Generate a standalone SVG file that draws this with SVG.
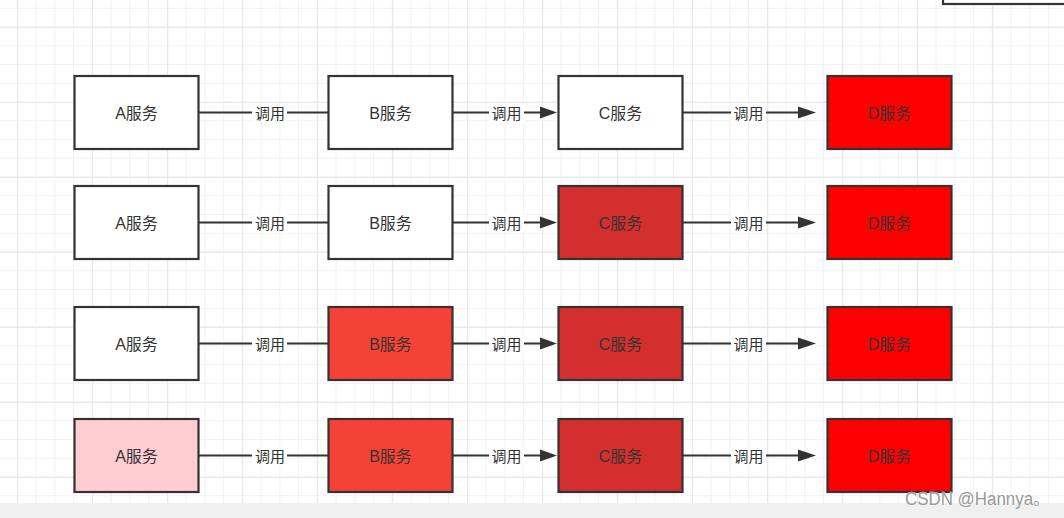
<svg xmlns="http://www.w3.org/2000/svg" width="1064" height="518" viewBox="0 0 1064 518">
<style>
.box{stroke:#333333;stroke-width:2.2}
.t{font-family:"Liberation Sans","Noto Sans CJK SC",sans-serif;font-size:15px;fill:#333333;text-anchor:middle;dominant-baseline:central}
.n{font-size:16px}
.edge{stroke:#333333;stroke-width:2.2;fill:none}
.lblbg{fill:#ffffff}
.arr{fill:#333333}
</style>
<defs>
<pattern id="minor" patternUnits="userSpaceOnUse" x="16.8" y="7.8" width="18.75" height="18.75">
<path d="M0 0.5H18.75M0.5 0V18.75" stroke="#f1f1f1" stroke-width="1" fill="none"/>
</pattern>
<pattern id="major" patternUnits="userSpaceOnUse" x="17.2" y="26.8" width="75" height="75">
<path d="M0 0.5H75M0.5 0V75" stroke="#e6e6e6" stroke-width="1" fill="none"/>
</pattern>
</defs>
<rect width="1064" height="518" fill="#ffffff"/>
<rect width="1064" height="518" fill="url(#minor)"/>
<rect width="1064" height="518" fill="url(#major)"/>
<g id="topbox"><rect x="943" y="-10" width="130" height="14" fill="#ffffff" class="box"/></g>

<g id="connectors">
<!-- row 1 -->
<line class="edge" x1="199" y1="112.5" x2="328" y2="112.5"/>
<rect class="lblbg" x="252" y="104" width="35" height="18"/>
<text class="t" x="270" y="113">调用</text>
<line class="edge" x1="453" y1="112.5" x2="542" y2="112.5"/>
<polygon class="arr" points="557,112.5 540,106.5 540,118.5"/>
<rect class="lblbg" x="489" y="104" width="35" height="18"/>
<text class="t" x="506.5" y="113">调用</text>
<line class="edge" x1="682" y1="112.5" x2="800" y2="112.5"/>
<polygon class="arr" points="816,112.5 798,106.5 798,118.5"/>
<rect class="lblbg" x="731" y="104" width="35" height="18"/>
<text class="t" x="748.5" y="113">调用</text>
<!-- row 2 -->
<line class="edge" x1="199" y1="222.5" x2="328" y2="222.5"/>
<rect class="lblbg" x="252" y="214" width="35" height="18"/>
<text class="t" x="270" y="223">调用</text>
<line class="edge" x1="453" y1="222.5" x2="542" y2="222.5"/>
<polygon class="arr" points="557,222.5 540,216.5 540,228.5"/>
<rect class="lblbg" x="489" y="214" width="35" height="18"/>
<text class="t" x="506.5" y="223">调用</text>
<line class="edge" x1="682" y1="222.5" x2="800" y2="222.5"/>
<polygon class="arr" points="816,222.5 798,216.5 798,228.5"/>
<rect class="lblbg" x="731" y="214" width="35" height="18"/>
<text class="t" x="748.5" y="223">调用</text>
<!-- row 3 -->
<line class="edge" x1="199" y1="343.5" x2="328" y2="343.5"/>
<rect class="lblbg" x="252" y="335" width="35" height="18"/>
<text class="t" x="270" y="344">调用</text>
<line class="edge" x1="453" y1="343.5" x2="542" y2="343.5"/>
<polygon class="arr" points="557,343.5 540,337.5 540,349.5"/>
<rect class="lblbg" x="489" y="335" width="35" height="18"/>
<text class="t" x="506.5" y="344">调用</text>
<line class="edge" x1="682" y1="343.5" x2="800" y2="343.5"/>
<polygon class="arr" points="816,343.5 798,337.5 798,349.5"/>
<rect class="lblbg" x="731" y="335" width="35" height="18"/>
<text class="t" x="748.5" y="344">调用</text>
<!-- row 4 -->
<line class="edge" x1="199" y1="455.5" x2="328" y2="455.5"/>
<rect class="lblbg" x="252" y="447" width="35" height="18"/>
<text class="t" x="270" y="456">调用</text>
<line class="edge" x1="453" y1="455.5" x2="542" y2="455.5"/>
<polygon class="arr" points="557,455.5 540,449.5 540,461.5"/>
<rect class="lblbg" x="489" y="447" width="35" height="18"/>
<text class="t" x="506.5" y="456">调用</text>
<line class="edge" x1="682" y1="455.5" x2="800" y2="455.5"/>
<polygon class="arr" points="816,455.5 798,449.5 798,461.5"/>
<rect class="lblbg" x="731" y="447" width="35" height="18"/>
<text class="t" x="748.5" y="456">调用</text>
</g>

<g id="r1a"><rect class="box" x="74.5" y="76" width="124" height="73" fill="#ffffff"/><text class="t n" x="136.5" y="113">A服务</text></g>
<g id="r1b"><rect class="box" x="328.5" y="76" width="124" height="73" fill="#ffffff"/><text class="t n" x="390.5" y="113">B服务</text></g>
<g id="r1c"><rect class="box" x="558.5" y="76" width="124" height="73" fill="#ffffff"/><text class="t n" x="620.5" y="113">C服务</text></g>
<g id="r1d"><rect class="box" x="827.5" y="76" width="124" height="73" fill="#ff0000"/><text class="t n" x="889.5" y="113">D服务</text></g>

<g id="r2a"><rect class="box" x="74.5" y="186" width="124" height="73" fill="#ffffff"/><text class="t n" x="136.5" y="223">A服务</text></g>
<g id="r2b"><rect class="box" x="328.5" y="186" width="124" height="73" fill="#ffffff"/><text class="t n" x="390.5" y="223">B服务</text></g>
<g id="r2c"><rect class="box" x="558.5" y="186" width="124" height="73" fill="#d32f2f"/><text class="t n" x="620.5" y="223">C服务</text></g>
<g id="r2d"><rect class="box" x="827.5" y="186" width="124" height="73" fill="#ff0000"/><text class="t n" x="889.5" y="223">D服务</text></g>

<g id="r3a"><rect class="box" x="74.5" y="307" width="124" height="73" fill="#ffffff"/><text class="t n" x="136.5" y="344">A服务</text></g>
<g id="r3b"><rect class="box" x="328.5" y="307" width="124" height="73" fill="#f44336"/><text class="t n" x="390.5" y="344">B服务</text></g>
<g id="r3c"><rect class="box" x="558.5" y="307" width="124" height="73" fill="#d32f2f"/><text class="t n" x="620.5" y="344">C服务</text></g>
<g id="r3d"><rect class="box" x="827.5" y="307" width="124" height="73" fill="#ff0000"/><text class="t n" x="889.5" y="344">D服务</text></g>

<g id="r4a"><rect class="box" x="74.5" y="419" width="124" height="73" fill="#ffcdd2"/><text class="t n" x="136.5" y="456">A服务</text></g>
<g id="r4b"><rect class="box" x="328.5" y="419" width="124" height="73" fill="#f44336"/><text class="t n" x="390.5" y="456">B服务</text></g>
<g id="r4c"><rect class="box" x="558.5" y="419" width="124" height="73" fill="#d32f2f"/><text class="t n" x="620.5" y="456">C服务</text></g>
<g id="r4d"><rect class="box" x="827.5" y="419" width="124" height="73" fill="#ff0000"/><text class="t n" x="889.5" y="456">D服务</text></g>

<rect x="0" y="503" width="1064" height="15" fill="#f0f0f0"/>
<text x="905" y="505" font-family="Liberation Sans,'Noto Sans CJK SC',sans-serif" font-size="18" fill="#999999" stroke="#ffffff" stroke-width="0.6" paint-order="stroke" textLength="145" lengthAdjust="spacingAndGlyphs">CSDN @Hannya。</text>
</svg>
